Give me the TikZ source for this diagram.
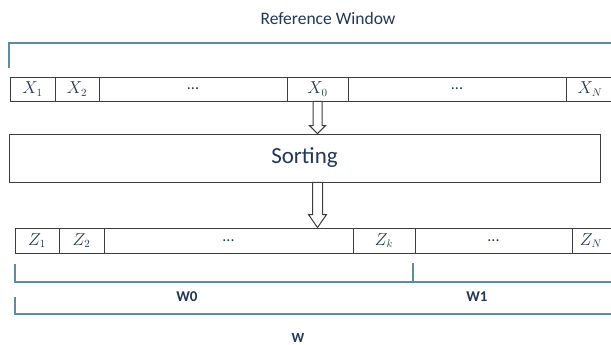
\documentclass[tikz,border=0pt]{standalone}
\usepackage{fontspec}
\setmainfont{Carlito}
\usetikzlibrary{calc}
\definecolor{inkblue}{RGB}{35,55,85}
\definecolor{bracketblue}{RGB}{95,140,165}
\definecolor{cellgray}{RGB}{60,60,60}
\def\hollowarrow(#1)(#2)[#3:#4:#5]{\draw[arrowbox] let \p1=(#1), \p2=(#2) in (\x1-#3,\y1) -- (\x1+#3,\y1) -- (\x1+#3,\y2+#5) -- (\x1+#4,\y2+#5) -- (\x1,\y2) -- (\x1-#4,\y2+#5) -- (\x1-#3,\y2+#5) -- cycle;}

\begin{document}
\begin{tikzpicture}[x=1pt, y=-1pt,
		cell/.style={draw=cellgray, line width=0.9pt, inner sep=0pt, minimum height=24pt, text=inkblue, font=\fontsize{16}{18}\selectfont},
		bracket/.style={draw=bracketblue, line width=1.4pt},
		caption/.style={text=inkblue, inner sep=0pt},
		arrowbox/.style={draw=cellgray, fill=white, line width=1pt, line join=miter}]
			%%%%% START %%%%%
			
			\clip (0,0) rectangle (611,345);
			
			\node[caption, font=\fontsize{17.5}{20}\selectfont] (refwin) at (328,18) {Reference Window};
			
			\node[cell, minimum width=45pt] (x1) at (32.5,89) {$X_1$};
			\node[cell, minimum width=44pt] (x2) at (77,89) {$X_2$};
			\node[cell, minimum width=188pt] (xd1) at (193,89) {...};
			\node[cell, minimum width=61pt] (x0) at (317.5,89) {$X_0$};
			\node[cell, minimum width=218pt] (xd2) at (457,89) {...};
			\node[cell, minimum width=60pt] (xN) at (596,89) {\hspace*{-12pt}$X_N$};
			
			\coordinate (rwa) at (9,68);
			\coordinate (rwb) at (620,43);
			\draw[bracket] (rwa) |- (rwb);
			
			\node[draw=cellgray, line width=0.9pt, minimum width=591pt, minimum height=48pt, text=inkblue, font=\fontsize{23}{27}\selectfont] (sort) at (304.5,158) {Sorting};
			
			\node[cell, minimum height=25pt, minimum width=44pt] (z1) at (37,240.5) {$Z_1$};
			\node[cell, minimum height=25pt, minimum width=45pt] (z2) at (81.5,240.5) {$Z_2$};
			\node[cell, minimum height=25pt, minimum width=249pt] (zd1) at (228.5,240.5) {...};
			\node[cell, minimum height=25pt, minimum width=62pt] (zk) at (384,240.5) {$Z_k$};
			\node[cell, minimum height=25pt, minimum width=157pt] (zd2) at (493.5,240.5) {...};
			\node[cell, minimum height=25pt, minimum width=60pt] (zN) at (602,240.5) {\hspace*{-22pt}$Z_N$};
			
			\hollowarrow(x0.south)(x0.south |- sort.north)[4.5pt:8pt:8pt];
			\hollowarrow(x0.south |- sort.south)(x0.south |- zd1.north)[5pt:9pt:13pt];
			
			\coordinate (w0a) at (15,264);
			\coordinate (w0b) at (413,282);
			\draw[bracket] (w0a) |- (w0b);
			\coordinate (w1a) at (413,263);
			\coordinate (w1b) at (620,282);
			\draw[bracket] (w1a) |- (w1b);
			\coordinate (wa) at (15,297);
			\coordinate (wb) at (620,314);
			\draw[bracket] (wa) |- (wb);
			
			\node[caption, font=\fontsize{15}{17}\selectfont\bfseries] (w0lab) at (187,297) {W0};
			\node[caption, font=\fontsize{15}{17}\selectfont\bfseries] (w1lab) at (477,297) {W1};
			\node[caption, font=\fontsize{14}{16}\selectfont\bfseries] (wlab) at (298,338) {W};
			
			%%%%% END %%%%%
\end{tikzpicture}
\end{document}
